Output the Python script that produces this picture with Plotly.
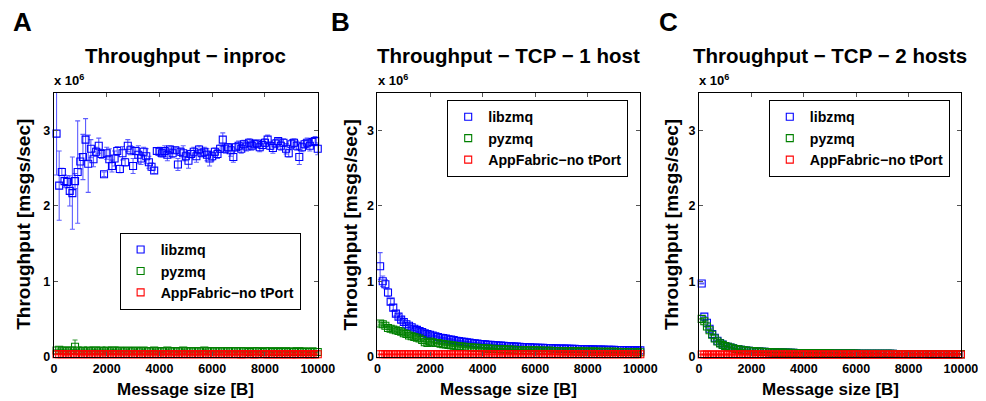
import plotly.graph_objects as go

# figure size; the captured page shows it with an 8px body margin and a slight shrink
W, H = 986, 401
OFF = 7.9
SHRINK = 0.984

# ---------------- data (throughput in millions of msgs/sec) ----------------
msg_size = list(range(100, 10001, 100))
series_names = ["libzmq", "pyzmq", "AppFabric\u2212no tPort"]
panel_titles = ["Throughput \u2212 inproc", "Throughput \u2212 TCP \u2212 1 host", "Throughput \u2212 TCP \u2212 2 hosts"]
panel_letters = ["A", "B", "C"]
x_ticks = [0, 2000, 4000, 6000, 8000, 10000]
x_tick_labels = ["0", "2000", "4000", "6000", "8000", "10000"]
y_ticks = [0, 1, 2, 3]
y_tick_labels = ["0", "1", "2", "3"]

inproc_libzmq = [
    2.96, 2.27, 2.45, 2.33, 2.32, 2.20, 2.17, 2.33, 2.45, 2.59,
    2.65, 2.88, 2.56, 2.76, 2.62, 2.72, 2.80, 2.69, 2.42, 2.70,
    2.62, 2.53, 2.63, 2.73, 2.49, 2.70, 2.58, 2.80, 2.74, 2.53,
    2.73, 2.68, 2.63, 2.72, 2.66, 2.58, 2.52, 2.47, 2.73, 2.72,
    2.70, 2.73, 2.68, 2.75, 2.70, 2.74, 2.55, 2.72, 2.70, 2.66,
    2.60, 2.69, 2.72, 2.66, 2.75, 2.70, 2.72, 2.68, 2.63, 2.66,
    2.72, 2.69, 2.76, 2.88, 2.76, 2.78, 2.74, 2.65, 2.78, 2.80,
    2.76, 2.82, 2.79, 2.84, 2.80, 2.82, 2.83, 2.78, 2.81, 2.84,
    2.88, 2.80, 2.77, 2.83, 2.86, 2.80, 2.84, 2.76, 2.70, 2.82,
    2.84, 2.80, 2.65, 2.78, 2.82, 2.84, 2.80, 2.85, 2.86, 2.76,
]
inproc_libzmq_err = [
    0.55, 0.46, 0.05, 0.08, 0.08, 0.20, 0.48, 0.10, 0.68, 0.10,
    0.30, 0.28, 0.38, 0.12, 0.10, 0.06, 0.10, 0.06, 0.03, 0.08,
    0.14, 0.08, 0.10, 0.06, 0.05, 0.09, 0.05, 0.08, 0.06, 0.10,
    0.05, 0.12, 0.08, 0.06, 0.10, 0.08, 0.05, 0.04, 0.04, 0.06,
    0.05, 0.07, 0.08, 0.05, 0.06, 0.04, 0.08, 0.05, 0.10, 0.06,
    0.10, 0.05, 0.06, 0.08, 0.05, 0.04, 0.06, 0.08, 0.10, 0.06,
    0.05, 0.06, 0.05, 0.09, 0.06, 0.05, 0.08, 0.07, 0.05, 0.06,
    0.06, 0.05, 0.06, 0.05, 0.06, 0.05, 0.04, 0.06, 0.05, 0.05,
    0.06, 0.05, 0.07, 0.05, 0.04, 0.06, 0.05, 0.07, 0.05, 0.06,
    0.05, 0.06, 0.10, 0.06, 0.05, 0.06, 0.07, 0.05, 0.06, 0.08,
]
inproc_pyzmq = [
    0.08, 0.09, 0.08, 0.08, 0.07, 0.08, 0.08, 0.13, 0.08, 0.07,
    0.08, 0.07, 0.08, 0.07, 0.08, 0.08, 0.07, 0.08, 0.07, 0.08,
    0.07, 0.08, 0.08, 0.07, 0.08, 0.07, 0.07, 0.08, 0.07, 0.07,
    0.08, 0.07, 0.07, 0.08, 0.07, 0.07, 0.07, 0.08, 0.07, 0.07,
    0.07, 0.07, 0.08, 0.07, 0.07, 0.07, 0.07, 0.07, 0.08, 0.07,
    0.07, 0.07, 0.07, 0.07, 0.07, 0.07, 0.08, 0.07, 0.07, 0.07,
    0.07, 0.07, 0.07, 0.07, 0.07, 0.07, 0.07, 0.07, 0.07, 0.07,
    0.07, 0.07, 0.07, 0.06, 0.07, 0.07, 0.07, 0.07, 0.06, 0.07,
    0.07, 0.07, 0.06, 0.07, 0.07, 0.06, 0.07, 0.07, 0.06, 0.07,
    0.06, 0.07, 0.07, 0.06, 0.07, 0.06, 0.06, 0.07, 0.06, 0.06,
]
inproc_pyzmq_err = [0.01] * 7 + [0.09] + [0.01] * 92
inproc_appfabric = [
    0.030, 0.032, 0.031, 0.030, 0.031, 0.030, 0.032, 0.031, 0.030, 0.031,
    0.030, 0.031, 0.030, 0.030, 0.031, 0.030, 0.030, 0.031, 0.030, 0.030,
    0.031, 0.030, 0.030, 0.030, 0.031, 0.030, 0.030, 0.030, 0.030, 0.031,
    0.030, 0.030, 0.030, 0.030, 0.030, 0.031, 0.030, 0.030, 0.030, 0.030,
    0.030, 0.030, 0.031, 0.030, 0.030, 0.030, 0.030, 0.030, 0.030, 0.030,
    0.030, 0.030, 0.030, 0.030, 0.030, 0.030, 0.030, 0.030, 0.030, 0.030,
    0.030, 0.030, 0.030, 0.030, 0.030, 0.030, 0.030, 0.030, 0.030, 0.030,
    0.029, 0.030, 0.030, 0.030, 0.030, 0.029, 0.030, 0.030, 0.030, 0.030,
    0.029, 0.030, 0.030, 0.029, 0.030, 0.030, 0.029, 0.030, 0.030, 0.029,
    0.030, 0.029, 0.030, 0.030, 0.029, 0.030, 0.029, 0.030, 0.029, 0.030,
]

tcp1_libzmq = [
    1.20, 1.00, 0.96, 0.85, 0.73, 0.65, 0.57, 0.53, 0.49, 0.46,
    0.43, 0.41, 0.39, 0.37, 0.355, 0.34, 0.325, 0.31, 0.30, 0.29,
    0.28, 0.27, 0.26, 0.25, 0.245, 0.24, 0.23, 0.225, 0.22, 0.21,
    0.205, 0.20, 0.195, 0.19, 0.185, 0.18, 0.175, 0.172, 0.168, 0.165,
    0.162, 0.158, 0.155, 0.152, 0.150, 0.147, 0.145, 0.142, 0.140, 0.138,
    0.136, 0.134, 0.132, 0.130, 0.128, 0.126, 0.124, 0.123, 0.121, 0.120,
    0.118, 0.117, 0.115, 0.114, 0.113, 0.112, 0.110, 0.109, 0.108, 0.107,
    0.106, 0.105, 0.104, 0.103, 0.102, 0.101, 0.100, 0.099, 0.098, 0.097,
    0.096, 0.095, 0.094, 0.094, 0.093, 0.092, 0.091, 0.090, 0.090, 0.089,
    0.088, 0.087, 0.087, 0.086, 0.085, 0.085, 0.084, 0.083, 0.083, 0.082,
]
tcp1_libzmq_err = [0.18, 0.07, 0.06, 0.05, 0.04, 0.04, 0.03, 0.03, 0.03, 0.03] + [0.02] * 10 + [0.01] * 80
tcp1_pyzmq = [
    0.44, 0.43, 0.41, 0.38, 0.37, 0.36, 0.35, 0.34, 0.33, 0.31,
    0.30, 0.28, 0.27, 0.26, 0.25, 0.24, 0.22, 0.19, 0.18, 0.20,
    0.19, 0.18, 0.18, 0.17, 0.165, 0.16, 0.155, 0.150, 0.145, 0.140,
    0.137, 0.134, 0.130, 0.127, 0.124, 0.120, 0.118, 0.115, 0.113, 0.110,
    0.108, 0.106, 0.104, 0.102, 0.100, 0.098, 0.097, 0.095, 0.094, 0.092,
    0.091, 0.090, 0.088, 0.087, 0.086, 0.085, 0.084, 0.083, 0.082, 0.081,
    0.080, 0.079, 0.078, 0.077, 0.077, 0.076, 0.075, 0.074, 0.074, 0.073,
    0.072, 0.072, 0.071, 0.070, 0.070, 0.069, 0.069, 0.068, 0.068, 0.067,
    0.067, 0.066, 0.066, 0.065, 0.065, 0.064, 0.064, 0.063, 0.063, 0.062,
    0.062, 0.061, 0.061, 0.061, 0.060, 0.060, 0.060, 0.059, 0.059, 0.058,
]
tcp1_pyzmq_err = [0.02] * 20 + [0.01] * 80
tcp1_appfabric = [0.030] * 100

tcp2_libzmq = [
    0.97, 0.53, 0.45, 0.37, 0.30, 0.25, 0.21, 0.18, 0.16, 0.14,
    0.13, 0.12, 0.11, 0.10, 0.095, 0.090, 0.085, 0.080, 0.077, 0.074,
    0.071, 0.068, 0.066, 0.064, 0.062, 0.060, 0.058, 0.057, 0.056, 0.055,
    0.054, 0.053, 0.052, 0.051, 0.050, 0.049, 0.048, 0.048, 0.047, 0.046,
    0.046, 0.045, 0.045, 0.044, 0.044, 0.043, 0.043, 0.042, 0.042, 0.042,
    0.041, 0.041, 0.041, 0.040, 0.040, 0.040, 0.039, 0.039, 0.039, 0.039,
    0.038, 0.038, 0.038, 0.038, 0.037, 0.037, 0.037, 0.037, 0.037, 0.036,
    0.036, 0.036, 0.036, 0.036, 0.035, 0.035, 0.035, 0.035, 0.035, 0.035,
    0.034, 0.034, 0.034, 0.034, 0.034, 0.034, 0.034, 0.033, 0.033, 0.033,
    0.033, 0.033, 0.033, 0.033, 0.032, 0.032, 0.032, 0.032, 0.032, 0.032,
]
tcp2_pyzmq = [
    0.50, 0.47, 0.40, 0.35, 0.29, 0.24, 0.20, 0.175, 0.155, 0.14,
    0.13, 0.12, 0.11, 0.10, 0.095, 0.090, 0.085, 0.080, 0.077, 0.074,
    0.071, 0.068, 0.066, 0.064, 0.062, 0.060, 0.058, 0.057, 0.056, 0.055,
    0.054, 0.053, 0.052, 0.051, 0.050, 0.049, 0.048, 0.048, 0.047, 0.046,
    0.046, 0.045, 0.045, 0.044, 0.044, 0.043, 0.043, 0.042, 0.042, 0.042,
    0.041, 0.041, 0.041, 0.040, 0.040, 0.040, 0.039, 0.039, 0.039, 0.039,
    0.038, 0.038, 0.038, 0.038, 0.037, 0.037, 0.037, 0.037, 0.037, 0.036,
    0.036, 0.036, 0.036, 0.036, 0.035, 0.035, 0.035, 0.035, 0.035, 0.035,
    0.034, 0.034, 0.034, 0.034, 0.034, 0.034, 0.034, 0.033, 0.033, 0.033,
    0.033, 0.033, 0.033, 0.033, 0.032, 0.032, 0.032, 0.032, 0.032, 0.032,
]
tcp2_appfabric = [0.028] * 100
small_err = [0.005] * 100

panels = [
    [(inproc_libzmq, inproc_libzmq_err), (inproc_pyzmq, inproc_pyzmq_err), (inproc_appfabric, small_err)],
    [(tcp1_libzmq, tcp1_libzmq_err), (tcp1_pyzmq, tcp1_pyzmq_err), (tcp1_appfabric, small_err)],
    [(tcp2_libzmq, small_err), (tcp2_pyzmq, small_err), (tcp2_appfabric, small_err)],
]

# ---------------- styling / layout ----------------
colors = ["#0000FF", "#008000", "#FF0000"]
err_colors = ["rgba(40,40,255,0.75)", "rgba(0,128,0,0.8)", "rgba(255,0,0,0.8)"]
FONT = "Liberation Sans, Arial, Helvetica, sans-serif"

# target screen-pixel positions of plot boxes (left, right) and (top, bottom)
box_x = [(51, 316), (376, 640), (699, 962)]
box_top, box_bot = 93, 357
legend_pos = [(117, 233), (446, 100), (769, 100)]
ytitle_x = [21, 349, 672]
letter_x = [19, 339, 668]


def px(x):
    return min(1.0, (x - OFF) / SHRINK / W)


def py(y):
    return max(0.0, 1 - (y - OFF) / SHRINK / H)


fig = go.Figure()
for p in range(3):
    xa = "x" if p == 0 else f"x{p+1}"
    ya = "y" if p == 0 else f"y{p+1}"
    leg = "legend" if p == 0 else f"legend{p+1}"
    for s in range(3):
        vals, errs = panels[p][s]
        fig.add_trace(go.Scatter(
            x=msg_size, y=vals, mode="markers", name=series_names[s],
            xaxis=xa, yaxis=ya, legend=leg, cliponaxis=False,
            marker=dict(symbol="square-open", size=7, color=colors[s], line=dict(width=1.1, color=colors[s])),
            error_y=dict(type="data", array=errs, visible=True, color=err_colors[s], thickness=1.1, width=2.5),
        ))

layout = dict(
    width=W, height=H, margin=dict(l=0, r=0, t=0, b=0),
    paper_bgcolor="white", plot_bgcolor="white",
    font=dict(family=FONT, color="black"),
    showlegend=True,
)
annotations = []
for p in range(3):
    sfx = "" if p == 0 else str(p + 1)
    l, r = box_x[p]
    axis_common = dict(showline=True, linecolor="black", linewidth=1.3, mirror="ticks",
                       ticks="inside", ticklen=4, tickcolor="#555", tickwidth=1,
                       showgrid=False, zeroline=False, ticklabeloverflow="allow",
                       tickfont=dict(family=FONT, size=12.5, weight="bold", color="black"))
    layout["xaxis" + sfx] = dict(domain=[px(l), px(r)], range=[0, 10000], tickvals=x_ticks,
                                 ticktext=x_tick_labels, anchor="y" + sfx, **axis_common)
    layout["yaxis" + sfx] = dict(domain=[py(box_bot), py(box_top)], range=[0, 3.5], tickvals=y_ticks,
                                 ticktext=y_tick_labels, anchor="x" + sfx, **axis_common)
    lx, ly = legend_pos[p]
    layout["legend" + sfx] = dict(x=px(lx), y=py(ly), xanchor="left", yanchor="top",
                                  bgcolor="white", bordercolor="black", borderwidth=1,
                                  font=dict(family=FONT, size=14.2, weight="bold", color="black"),
                                  tracegroupgap=0, itemwidth=30)
    cx = (l + r) / 2
    annotations += [
        dict(text=f"<b>{panel_titles[p]}</b>", x=px(cx), y=py(55), xref="paper", yref="paper",
             showarrow=False, font=dict(size=20.5, family=FONT), xanchor="center", yanchor="middle"),
        dict(text=f"<b>{panel_letters[p]}</b>", x=px(letter_x[p]), y=py(22), xref="paper", yref="paper",
             showarrow=False, font=dict(size=26, family=FONT), xanchor="center", yanchor="middle"),
        dict(text="<b>x 10<sup>6</sup></b>", x=px(l - 2), y=py(80), xref="paper", yref="paper",
             showarrow=False, font=dict(size=13, family=FONT), xanchor="left", yanchor="middle"),
        dict(text="<b>Message size [B]</b>", x=px(cx), y=py(390), xref="paper", yref="paper",
             showarrow=False, font=dict(size=17, family=FONT), xanchor="center", yanchor="middle"),
        dict(text="<b>Throughput [msgs/sec]</b>", x=px(ytitle_x[p]), y=py((box_top + box_bot) / 2),
             xref="paper", yref="paper", textangle=-90,
             showarrow=False, font=dict(size=19, family=FONT), xanchor="center", yanchor="middle"),
    ]
layout["annotations"] = annotations
fig.update_layout(**layout)
fig.write_html("out.html")
